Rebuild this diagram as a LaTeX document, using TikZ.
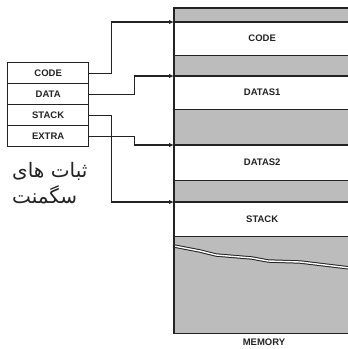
\documentclass[tikz,border=0pt]{standalone}
\usepackage{fontspec}
\setmainfont{Liberation Sans}
\newfontfamily\arabicfont[Script=Arabic]{DejaVu Sans}
\TeXXeTstate=1
\usetikzlibrary{arrows.meta}
\definecolor{memgray}{RGB}{188,188,188}
\definecolor{inkc}{RGB}{35,35,35}
\begin{document}
\begin{tikzpicture}[x=1pt,y=-1pt,
  lbl/.style={font=\fontsize{9.5}{11}\selectfont\bfseries, text=inkc},
  reg/.style={lbl, draw=inkc, line width=1.3pt, minimum width=81pt, minimum height=21pt, inner sep=0pt, anchor=north west},
  seg/.style={lbl, fill=white, minimum width=176pt, inner sep=0pt, anchor=north west},
  band/.style={draw=inkc, line width=1.6pt},
  conn/.style={draw=inkc, line width=1.1pt, -{Latex[length=5pt,width=4.5pt]}},
  arab/.style={font=\arabicfont\fontsize{20}{22}\selectfont, inner sep=0pt, anchor=base west, text=inkc}
  ]
\useasboundingbox (0,0) rectangle (348,349);
% memory block
\node[fill=memgray, minimum width=176pt, minimum height=325pt, inner sep=0pt, anchor=north west] (mem) at (174,8) {};
\node[seg, minimum height=33pt] (mcode) at (174,22) {CODE};
\node[seg, minimum height=33pt] (mdatas1) at (174,76) {DATAS1};
\node[seg, minimum height=35pt] (mdatas2) at (174,145) {DATAS2};
\node[seg, minimum height=34pt] (mstack) at (174,202) {STACK};
\foreach \s in {mcode,mdatas1,mdatas2,mstack}{
  \draw[band] (\s.north west) -- (\s.north east);
  \draw[band] (\s.south west) -- (\s.south east);
}
% torn edge
\draw[inkc, line width=3.4pt, line join=round] (174,246) -- (200,251) -- (216,255) -- (252,258) -- (268,261) -- (300,262) -- (350,268);
\draw[white, line width=1.4pt, line join=round] (174,246) -- (200,251) -- (216,255) -- (252,258) -- (268,261) -- (300,262) -- (350,268);
\draw[band] (mem.north east) -- (mem.north west) -- (mem.south west) -- (mem.south east);
\node[lbl] (memlbl) at (264,342.5) {MEMORY};
% registers
\node[reg] (rcode) at (7,62) {CODE};
\node[reg] (rdata) at (7,83) {DATA};
\node[reg] (rstack) at (7,104) {STACK};
\node[reg] (rextra) at (7,125) {EXTRA};
% connectors
\draw[conn] (rcode.east) -- ++(22,0) |- (mcode.north west);
\draw[conn] (rdata.east) -- ++(45,0) |- (mdatas1.north west);
\draw[conn] (rstack.east) -- ++(22,0) |- (mstack.north west);
\draw[conn] (rextra.east) -- ++(45,0) |- (mdatas2.north west);
% caption
\node[arab] (cap1) at (12,177) {\beginR ثبات های\endR};
\node[arab] (cap2) at (12,203) {\beginR سگمنت\endR};
\end{tikzpicture}
\end{document}
